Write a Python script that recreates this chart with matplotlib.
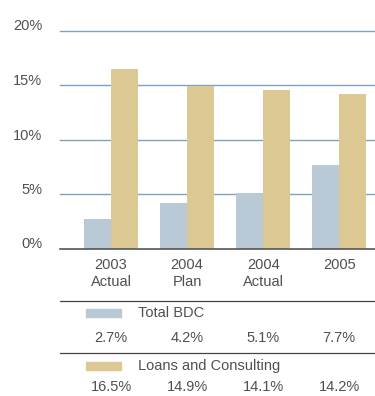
import matplotlib
matplotlib.use("Agg")
import matplotlib.pyplot as plt
from matplotlib.transforms import blended_transform_factory
import numpy as np

# --- data ---
categories = ["2003\nActual", "2004\nPlan", "2004\nActual", "2005"]
total_bdc = [2.7, 4.2, 5.1, 7.7]
loans_consulting = [16.5, 14.9, 14.5, 14.2]
total_bdc_labels = ["2.7%", "4.2%", "5.1%", "7.7%"]
loans_labels = ["16.5%", "14.9%", "14.1%", "14.2%"]
yticks = [0, 5, 10, 15, 20]

blue = "#b9c9d6"
tan = "#dcc892"
grid_c = "#7ea2be"
text_c = "#505050"
fs = 10.5
plt.rcParams["font.family"] = ["Liberation Sans", "DejaVu Sans"]

W, H = 375, 396
fig = plt.figure(figsize=(W / 100, H / 100), dpi=100)
ax = fig.add_axes([60 / W, (H - 248.5) / H, 1 - 60 / W, (248.5 - 30.5) / H])

x = np.arange(len(categories))
bw = 0.355
ax.bar(x - bw / 2, total_bdc, width=bw, color=blue, zorder=2)
ax.bar(x + bw / 2, loans_consulting, width=bw, color=tan, zorder=2)

ax.set_xlim(-0.671, 3.47)
ax.set_ylim(0, 20)
for t in yticks[1:]:
    ax.axhline(t, color=grid_c, lw=1.0, zorder=1, snap=True, clip_on=False)
for s in ["top", "right", "left"]:
    ax.spines[s].set_visible(False)
ax.spines["bottom"].set_color("#555555")
ax.spines["bottom"].set_linewidth(1.2)
ax.set_yticks([])
ax.set_xticks([])

# y labels sit just above their line, right-aligned
ytr = blended_transform_factory(fig.transFigure, ax.transData)
for t in yticks:
    ax.text(42.5 / W, t, f"{t}%", transform=ytr, ha="right", va="baseline",
            color=text_c, fontsize=fs)

# table under the chart: data x, figure y
tr = blended_transform_factory(ax.transData, fig.transFigure)

def fy(py):
    return (H - py) / H

for xi, lab in zip(x, categories):
    ax.text(xi, fy(258), lab, transform=tr, ha="center", va="top",
            color=text_c, fontsize=fs, linespacing=1.25)

for py in (300.7, 352.7):
    ax.plot([-0.671, 3.47], [fy(py), fy(py)], transform=tr, color="#444444",
            lw=0.9, clip_on=False)

def legend_row(py_sw, label, color):
    ax.add_patch(plt.Rectangle((-0.33, fy(py_sw + 4)), 0.46, 8 / H,
                               transform=tr, color=color, clip_on=False))
    ax.text(0.35, fy(py_sw), label, transform=tr, ha="left", va="center",
            color=text_c, fontsize=fs)

legend_row(313.3, "Total BDC", blue)
legend_row(366, "Loans and Consulting", tan)

for xi, lab in zip(x, total_bdc_labels):
    ax.text(xi, fy(338), lab, transform=tr, ha="center", va="center",
            color=text_c, fontsize=fs)
for xi, lab in zip(x, loans_labels):
    ax.text(xi, fy(387), lab, transform=tr, ha="center", va="center",
            color=text_c, fontsize=fs)

fig.savefig("out.png", dpi=100)
